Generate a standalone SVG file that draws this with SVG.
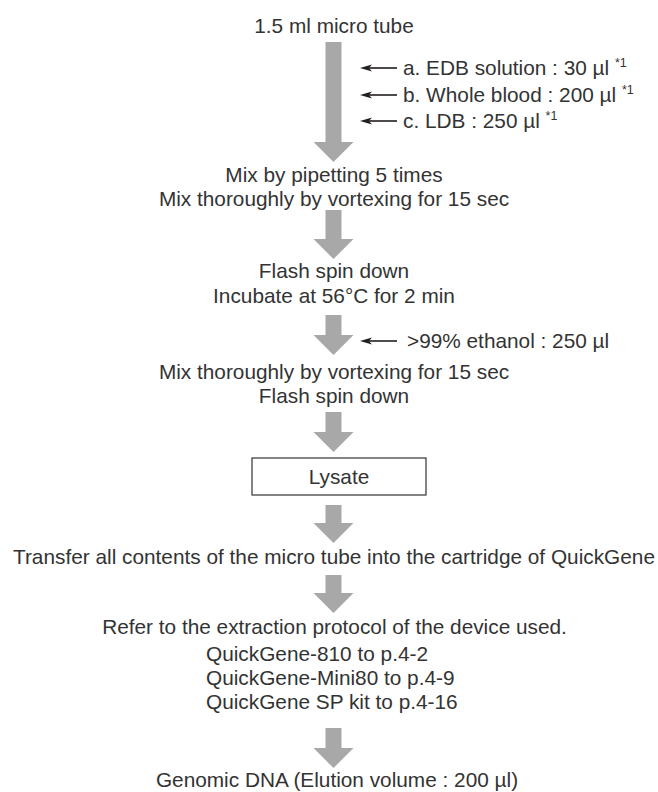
<svg xmlns="http://www.w3.org/2000/svg" width="658" height="792" viewBox="0 0 658 792">
  <style>
    text { font-family: "Liberation Sans", Arial, sans-serif; font-size: 20.8px; fill: #333333; }
    .c { text-anchor: middle; }
    .sup { font-size: 12.5px; }
    .flow { fill: #a8a8a8; }
    .add { stroke: #231f20; stroke-width: 1.6; fill: none; }
    .tip { fill: #231f20; }
    .box { fill: #ffffff; stroke: #333333; stroke-width: 1.2; }
  </style>
  <defs>
    <!-- small dart-style head pointing left, tip at origin -->
    <path id="dart" class="tip" d="M0,0 L12,-3.5 L9,0 L12,3.5 Z"/>
  </defs>

  <!-- wide grey flow arrows between steps -->
  <g id="connectors">
    <path class="flow" d="M325.5,42 H341.5 V142 H353.5 L333.5,162 L313.5,142 H325.5 Z"/>
    <path class="flow" d="M325.5,210 H341.5 V239 H353.5 L333.5,259 L313.5,239 H325.5 Z"/>
    <path class="flow" d="M325.5,315 H341.5 V335 H353.5 L333.5,355 L313.5,335 H325.5 Z"/>
    <path class="flow" d="M325.5,412 H341.5 V432 H353.5 L333.5,452 L313.5,432 H325.5 Z"/>
    <path class="flow" d="M325.5,505 H341.5 V523 H353.5 L333.5,543 L313.5,523 H325.5 Z"/>
    <path class="flow" d="M325.5,575 H341.5 V593 H353.5 L333.5,613 L313.5,593 H325.5 Z"/>
    <path class="flow" d="M325.5,728 H341.5 V748 H353.5 L333.5,768 L313.5,748 H325.5 Z"/>

    <!-- reagent additions -->
    <line class="add" x1="368" y1="68" x2="397" y2="68"/>
    <use href="#dart" x="360" y="68"/>
    <line class="add" x1="368" y1="95" x2="397" y2="95"/>
    <use href="#dart" x="360" y="95"/>
    <line class="add" x1="368" y1="121" x2="397" y2="121"/>
    <use href="#dart" x="360" y="121"/>
    <line class="add" x1="368" y1="341" x2="397" y2="341"/>
    <use href="#dart" x="360" y="341"/>
  </g>

  <g id="tube">
    <text class="c" x="334" y="33">1.5 ml micro tube</text>
  </g>

  <g id="reagent-a">
    <text x="403" y="75">a. EDB solution : 30 µl <tspan class="sup" dy="-8">*1</tspan></text>
  </g>
  <g id="reagent-b">
    <text x="403" y="102">b. Whole blood : 200 µl <tspan class="sup" dy="-8">*1</tspan></text>
  </g>
  <g id="reagent-c">
    <text x="403" y="128">c. LDB : 250 µl <tspan class="sup" dy="-8">*1</tspan></text>
  </g>

  <g id="mix">
    <text class="c" x="334" y="182">Mix by pipetting 5 times</text>
    <text class="c" x="334" y="206">Mix thoroughly by vortexing for 15 sec</text>
  </g>

  <g id="incubate">
    <text class="c" x="334" y="278">Flash spin down</text>
    <text class="c" x="334" y="303">Incubate at 56°C for 2 min</text>
  </g>

  <g id="ethanol">
    <text x="407" y="348">&gt;99% ethanol : 250 µl</text>
  </g>

  <g id="vortex">
    <text class="c" x="334" y="379">Mix thoroughly by vortexing for 15 sec</text>
    <text class="c" x="334" y="403">Flash spin down</text>
  </g>

  <g id="lysate">
    <rect class="box" x="252" y="458" width="174" height="37"/>
    <text class="c" x="339" y="484">Lysate</text>
  </g>

  <g id="transfer">
    <text class="c" x="334" y="564">Transfer all contents of the micro tube into the cartridge of QuickGene</text>
  </g>

  <g id="extraction">
    <text class="c" x="334.5" y="634">Refer to the extraction protocol of the device used.</text>
    <text x="206" y="661">QuickGene-810 to p.4-2</text>
    <text x="206" y="685">QuickGene-Mini80 to p.4-9</text>
    <text x="206" y="709">QuickGene SP kit to p.4-16</text>
  </g>

  <g id="genomic-dna">
    <text class="c" x="337" y="787">Genomic DNA (Elution volume : 200 µl)</text>
  </g>
</svg>
